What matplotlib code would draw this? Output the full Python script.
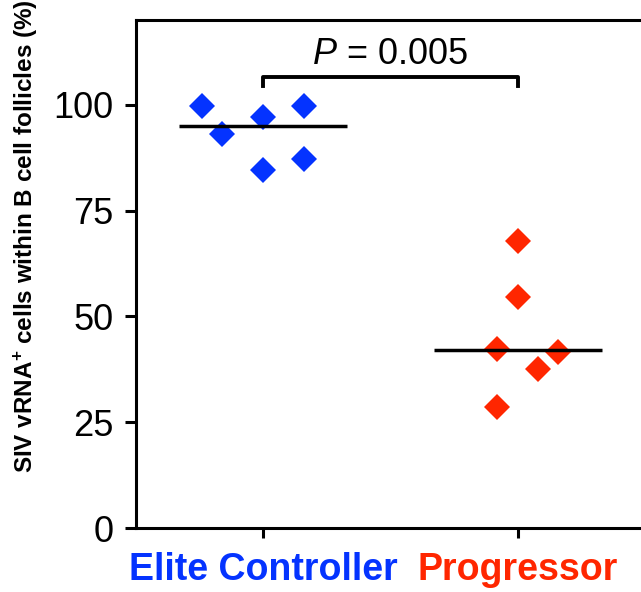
import matplotlib
matplotlib.use('Agg')
import matplotlib.pyplot as plt
import numpy as np

plt.rcParams['font.family'] = ['Liberation Sans', 'DejaVu Sans']
plt.rcParams['mathtext.fontset'] = 'custom'
plt.rcParams['mathtext.rm'] = 'Liberation Sans'
plt.rcParams['mathtext.it'] = 'Liberation Sans:italic'
plt.rcParams['mathtext.bf'] = 'Liberation Sans:bold'

## group names and colours
groups = ['Elite Controller', 'Progressor']
colors = ['#0433FF', '#FF2600']
## values (%)
elite = [99.8, 93.0, 97.2, 84.7, 99.8, 87.1]
elite_dx = [-0.24, -0.16, 0.0, 0.0, 0.16, 0.16]
prog = [67.9, 54.6, 42.3, 28.5, 37.6, 41.7]
prog_dx = [0.0, 0.0, -0.08, -0.08, 0.08, 0.16]
medians = [95.0, 42.1]
p_text = '$\\it{P}$ = 0.005'

fig = plt.figure(figsize=(6.41, 5.92), dpi=100)
ax = fig.add_axes([0.212, 0.108, 0.794, 0.858])

for i, (vals, dx) in enumerate([(elite, elite_dx), (prog, prog_dx)]):
    xs = np.array(dx) + i + 1
    ax.plot(xs, vals, 'D', color=colors[i], markersize=13.5,
            markeredgewidth=0, zorder=2)
    # median line goes over the points
    ax.plot([i + 1 - 0.33, i + 1 + 0.33], [medians[i]] * 2, color='black',
            lw=2.5, zorder=3, solid_capstyle='butt')

# significance bracket
ax.plot([1, 1, 2, 2], [104.5, 106.5, 106.5, 104.5], color='black', lw=2.8,
        clip_on=False)
ax.text(1.5, 107.8, p_text, ha='center', va='bottom', fontsize=26)

ax.set_xlim(0.5, 2.5)
ax.set_ylim(0, 120)
ax.set_yticks([0, 25, 50, 75, 100])
ax.set_xticks([1, 2])
ax.set_xticklabels(groups, fontsize=27, fontweight='bold')
for lab, c in zip(ax.get_xticklabels(), colors):
    lab.set_color(c)
ax.tick_params(axis='y', labelsize=26, width=2.2, length=8, pad=8)
ax.tick_params(axis='x', width=2.2, length=7, pad=10)
for s in ax.spines.values():
    s.set_linewidth(2.2)
ax.set_ylabel('SIV vRNA$^{\\mathbf{+}}$ cells within B cell follicles (%)',
              fontsize=17.5, fontweight='bold')
ax.yaxis.set_label_coords(-0.188, 0.574)

fig.savefig('out.png', dpi=100)
